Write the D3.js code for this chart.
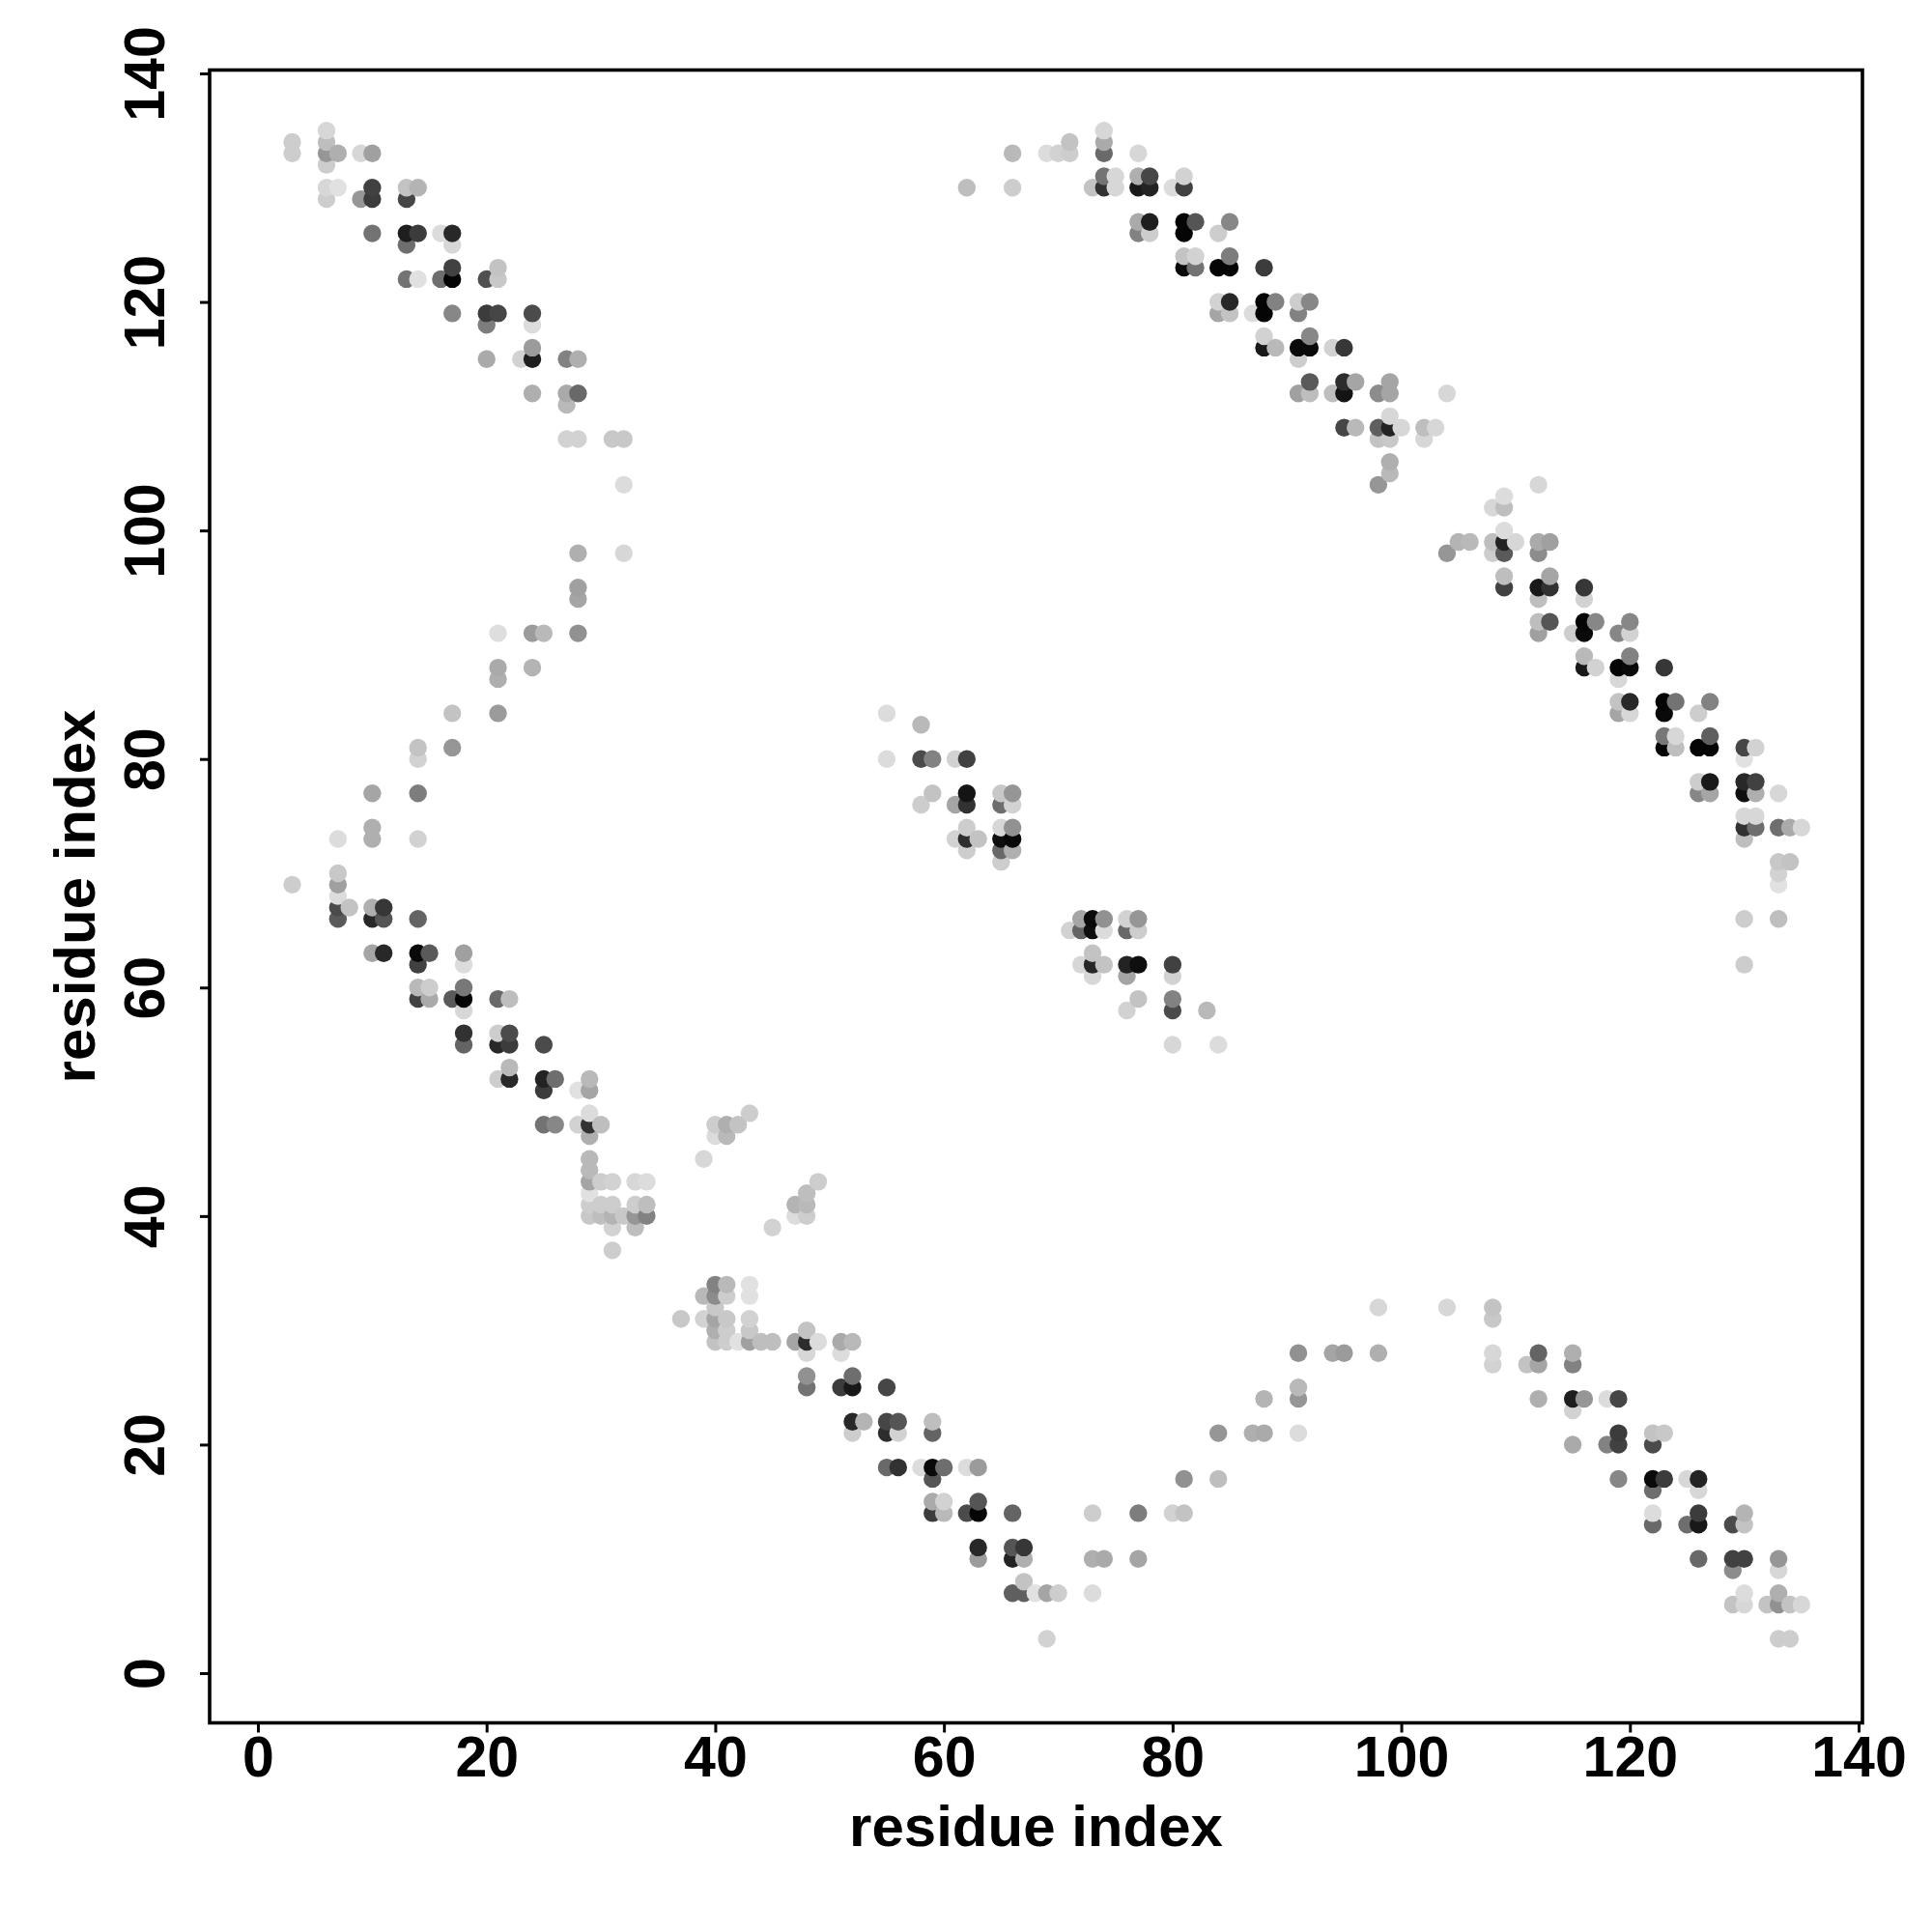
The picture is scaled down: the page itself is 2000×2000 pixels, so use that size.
<!DOCTYPE html>
<html>
<head>
<meta charset="utf-8">
<script src="https://cdn.jsdelivr.net/npm/d3@7"></script>
<style>html,body{margin:0;padding:0;background:#fff}svg{display:block}</style>
</head>
<body>
<script>
// Each entry: [residue i, residue j, grey level]
const upperLeft = [
[3,134,205],[3,133,205],[6,135,215],[6,134,190],[6,133,150],[6,132,205],[6,130,215],[6,129,205],
[7,133,175],[7,130,225],[9,133,215],[9,129,150],[10,133,160],[10,130,65],[10,129,60],[10,126,115],
[13,130,195],[13,129,70],[13,126,30],[13,125,110],[13,122,115],[14,130,180],[14,126,60],[14,122,225],
[16,126,220],[16,122,110],[17,126,40],[17,125,215],[17,123,65],[17,122,5],[17,119,135],
[20,122,80],[20,119,60],[20,118,125],[20,115,170],[21,123,195],[21,122,200],[21,119,70],[23,115,210],
[24,119,75],[24,118,220],[24,116,155],[24,115,30],[24,112,175],[27,115,130],[27,112,170],[27,111,185],[27,108,210],
[28,115,175],[28,112,105],[28,108,210],[31,108,200],[32,108,200],[32,104,220]
];
const leftArc = [
[3,69,205],[7,73,220],[10,77,165],[10,74,175],[10,73,175],[14,81,195],[14,80,210],[14,77,125],[14,73,210],
[17,84,195],[17,81,150],[21,91,222],[21,88,170],[21,87,175],[21,84,155],[24,91,155],[24,88,180],[25,91,185],
[28,98,175],[28,95,160],[28,94,165],[28,91,145],[32,98,215]
];
const lowerLeft = [
[7,70,200],[7,69,160],[7,68,220],[7,67,75],[7,66,90],[8,67,195],[10,67,175],[10,66,40],[10,63,165],
[11,67,55],[11,66,85],[11,63,40],[14,66,100],[14,63,10],[14,62,65],[14,60,185],[14,59,65],
[15,63,90],[15,60,205],[15,59,170],[17,59,90],[18,63,160],[18,62,220],[18,60,120],[18,59,5],[18,58,215],[18,56,50],[18,55,100],
[21,59,105],[21,56,205],[21,55,40],[21,52,205],[22,59,190],[22,56,75],[22,55,60],[22,53,185],[22,52,40],
[25,55,75],[25,52,35],[25,51,60],[25,48,115],[26,52,110],[26,48,135],[28,51,225],[28,48,210],
[29,52,185],[29,51,165],[29,49,220],[29,48,50],[29,47,175],[29,45,185],[29,44,185],[29,43,165],[29,42,225],[29,41,205],[29,40,200],
[30,48,190],[30,43,205],[30,41,205],[30,40,190],[31,43,210],[31,41,205],[31,40,180],[31,39,210],[31,37,205],
[32,40,200],[33,43,215],[33,41,205],[33,40,150],[33,39,190],[34,43,220],[34,41,190],[34,40,130]
];
const midPatches = [
[39,45,215],[40,48,205],[40,47,220],[41,48,175],[41,47,185],[42,48,195],[43,49,205],
[45,39,210],[47,41,180],[47,40,220],[48,42,190],[48,41,185],[48,40,205],[49,43,205]
];
const lowerMid = [
[37,31,200],[39,33,185],[39,31,210],[40,34,130],[40,33,140],[40,32,200],[40,31,165],[40,30,175],[40,29,195],
[41,34,185],[41,33,205],[41,31,200],[41,30,205],[41,29,205],[42,29,225],
[43,34,225],[43,33,225],[43,31,210],[43,30,200],[43,29,160],[44,29,190],[45,29,190],[47,29,165],
[48,30,195],[48,29,45],[48,28,215],[48,26,145],[48,25,115],[49,29,220],
[51,29,170],[51,28,220],[51,25,60],[52,29,185],[52,26,110],[52,25,25],[52,22,40],[52,21,205],[53,22,180],
[55,25,70],[55,22,70],[55,21,45],[55,18,105],[56,22,85],[56,21,210],[56,18,50],[58,18,220],
[59,22,190],[59,21,100],[59,18,10],[59,17,85],[59,15,170],[59,14,60],[60,18,110],[60,15,210],[60,14,185],
[62,18,220],[62,14,75],[63,18,155],[63,15,85],[63,14,5],[63,11,40],[63,10,155],
[66,14,100],[66,11,85],[66,10,35],[66,7,95],[67,11,55],[67,10,175],[67,8,195],[67,7,95],[68,7,225],
[69,7,165],[69,3,210],[70,7,205]
];
const bottomArc = [
[73,14,205],[73,10,175],[73,7,220],[74,10,170],[77,14,125],[77,10,165],[80,14,210],[81,17,145],[81,14,195],
[84,21,150],[84,17,190],[87,21,175],[88,24,180],[88,21,170],[91,28,145],[91,25,185],[91,24,150],[91,21,220],
[94,28,165],[95,28,155],[98,32,215],[98,28,175],[104,32,215]
];
const bottomRight = [
[108,32,195],[108,31,200],[108,28,215],[108,27,210],[111,27,195],[112,28,100],[112,27,165],[112,24,175],
[115,28,175],[115,27,130],[115,24,30],[115,23,210],[115,20,170],[116,24,150],[118,24,220],[118,20,130],
[119,24,70],[119,21,60],[119,20,65],[119,17,135],[122,21,195],[122,20,75],[122,17,10],[122,16,110],[122,14,220],[122,13,105],
[123,21,200],[123,17,60],[125,17,215],[125,13,110],[126,17,35],[126,16,215],[126,14,60],[126,13,25],[126,10,105],
[129,13,75],[129,10,65],[129,9,140],[129,6,195],[130,14,180],[130,13,195],[130,10,65],[130,7,220],[130,6,215],
[132,6,195],[133,10,150],[133,9,215],[133,7,175],[133,6,145],[133,3,205],[134,6,195],[134,3,205],[135,6,215]
];
const centerUpper = [
[55,84,220],[55,80,220],[58,83,185],[58,80,75],[58,76,205],[59,80,130],[59,77,195],[61,80,210],[61,76,165],[61,73,210],
[62,80,65],[62,77,20],[62,76,50],[62,74,205],[62,73,45],[62,72,205],[63,73,195],
[65,77,200],[65,76,110],[65,74,215],[65,73,15],[65,72,105],[65,71,205],[66,77,150],[66,76,210],[66,74,145],[66,73,10],[66,72,175]
];
const centerLower = [
[71,65,210],[72,66,165],[72,65,100],[72,62,215],[73,66,10],[73,65,15],[73,63,195],[73,62,40],[73,61,215],
[74,66,145],[74,65,220],[74,62,195],[76,66,210],[76,65,105],[76,62,35],[76,61,165],[76,58,210],
[77,66,150],[77,65,205],[77,62,15],[77,59,195],[80,62,65],[80,61,210],[80,59,130],[80,58,75],[80,55,215],[83,58,185],[84,55,220]
];
const upperRight = [
[62,130,190],[66,133,185],[66,130,205],[69,133,220],[70,133,210],[71,134,195],[71,133,205],[73,130,195],
[74,135,215],[74,134,170],[74,133,105],[74,131,115],[74,130,50],[75,131,215],[75,130,215],
[77,133,215],[77,131,175],[77,130,25],[77,127,170],[77,126,130],[78,131,70],[78,130,35],[78,127,30],[78,126,205],[80,130,220],
[81,131,210],[81,130,65],[81,127,5],[81,126,5],[81,124,195],[81,123,10],[82,127,85],[82,124,210],[82,123,115],
[84,126,205],[84,123,5],[84,120,210],[84,119,165],[85,127,135],[85,124,125],[85,123,5],[85,120,40],[85,119,195],[87,119,220],
[88,123,60],[88,120,5],[88,119,5],[88,117,210],[88,116,25],[89,120,130],[89,116,185],
[91,120,205],[91,119,130],[91,116,10],[91,115,205],[91,112,160],[92,120,135],[92,117,135],[92,116,10],[92,113,90],[92,112,190],
[94,116,210],[94,112,190],[95,116,55],[95,113,45],[95,112,20],[95,109,70],[96,113,165],[96,109,185],
[98,112,140],[98,109,95],[98,108,195],[98,104,150],[99,113,165],[99,112,165],[99,110,215],[99,109,35],[99,108,200],[99,106,175],[99,105,185],
[100,109,215],[102,109,190],[102,108,215],[103,109,215],[104,112,215]
];
const rightArm = [
[104,98,150],[105,99,180],[106,99,185],[108,102,215],[108,99,190],[108,98,205],
[109,103,220],[109,102,190],[109,100,220],[109,99,35],[109,98,90],[109,96,190],[109,95,65],[110,99,215],
[112,104,215],[112,99,170],[112,98,140],[112,95,25],[112,94,190],[112,92,190],[112,91,160],
[113,99,160],[113,96,165],[113,95,50],[113,92,85],[115,91,205],
[116,95,55],[116,94,210],[116,92,5],[116,91,10],[116,89,185],[116,88,25],[117,92,135],[117,88,210],
[119,91,135],[119,88,5],[119,87,215],[119,85,195],[119,84,165],[120,92,135],[120,91,210],[120,89,130],[120,88,10],[120,85,40],[120,84,215],
[123,88,55],[123,85,5],[123,84,10],[123,82,120],[123,81,5],[124,85,115],[124,82,215],[124,81,190],
[126,84,205],[126,81,5],[126,78,205],[126,77,135],[127,85,130],[127,82,95],[127,81,5],[127,78,25],[127,77,165],
[130,81,70],[130,80,225],[130,78,40],[130,77,15],[130,75,215],[130,74,50],[130,73,190],[130,66,205],[130,62,205],
[131,81,210],[131,78,65],[131,77,175],[131,75,215],[131,74,110],
[133,77,215],[133,74,110],[133,71,200],[133,70,210],[133,69,225],[133,66,190],[134,74,170],[134,71,195],[135,74,215]
];
const xTicks = [0,20,40,60,80,100,120,140];
const yTicks = [0,20,40,60,80,100,120,140];
const axisTitle = "residue index";

const contacts = [].concat(upperLeft,leftArc,lowerLeft,midPatches,lowerMid,bottomArc,bottomRight,centerUpper,centerLower,upperRight,rightArm)
  .sort((a,b)=>a[0]-b[0]||a[1]-b[1]);

const box = {left:217,right:1928,top:72.5,bottom:1783.5};
const x = d3.scaleLinear().domain([0,140]).range([267,1924]);
const y = d3.scaleLinear().domain([0,140]).range([1732,76]);
const font = '"Liberation Sans",Arial,sans-serif';

const svg = d3.select("body").append("svg").attr("width",2000).attr("height",2000)
  .style("background","#fff");

svg.append("g").selectAll("circle").data(contacts).join("circle")
  .attr("cx",d=>x(d[0])).attr("cy",d=>y(d[1])).attr("r",9.2)
  .attr("fill",d=>`rgb(${d[2]},${d[2]},${d[2]})`);

svg.append("rect").attr("x",box.left).attr("y",box.top)
  .attr("width",box.right-box.left).attr("height",box.bottom-box.top)
  .attr("fill","none").attr("stroke","#000").attr("stroke-width",3.6);

const gx = svg.append("g").attr("transform",`translate(0,${box.bottom})`)
  .call(d3.axisBottom(x).tickValues(xTicks).tickSize(10).tickSizeOuter(0));
gx.select(".domain").remove();
gx.selectAll("line").attr("stroke","#000").attr("stroke-width",3);
gx.selectAll("text").attr("y",55.5).attr("dy",null).attr("fill","#000")
  .attr("font-family",font).attr("font-weight","bold").attr("font-size",59);

const gy = svg.append("g").attr("transform",`translate(${box.left},0)`)
  .call(d3.axisLeft(y).tickValues(yTicks).tickSize(10).tickSizeOuter(0));
gy.select(".domain").remove();
gy.selectAll("line").attr("stroke","#000").attr("stroke-width",3);
gy.selectAll("text").attr("x",null).attr("dy",null).attr("fill","#000")
  .attr("text-anchor","middle").attr("transform","translate(-47,0) rotate(-90)")
  .attr("font-family",font).attr("font-weight","bold").attr("font-size",59);

svg.append("text").attr("x",(box.left+box.right)/2).attr("y",1911)
  .attr("text-anchor","middle").attr("font-family",font).attr("font-weight","bold")
  .attr("font-size",60).attr("fill","#000").text(axisTitle);
svg.append("text").attr("transform",`translate(98,${(box.top+box.bottom)/2}) rotate(-90)`)
  .attr("text-anchor","middle").attr("font-family",font).attr("font-weight","bold")
  .attr("font-size",60).attr("fill","#000").text(axisTitle);
</script>
</body>
</html>
